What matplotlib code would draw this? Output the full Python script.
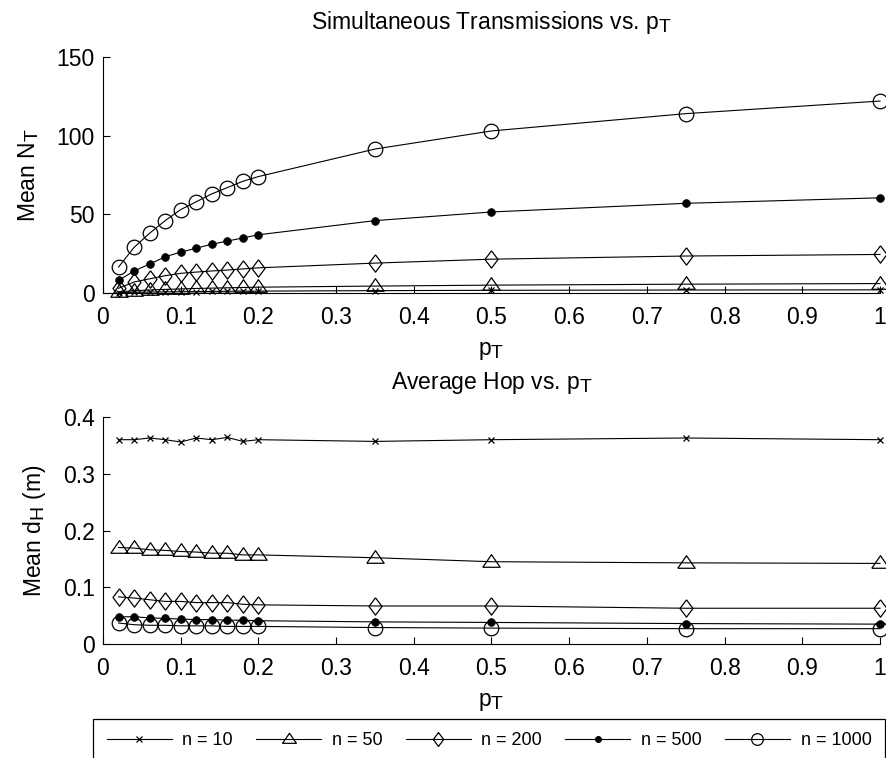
import matplotlib
matplotlib.use("Agg")
import matplotlib.pyplot as plt
import numpy as np

try:
    import matplotlib._mathtext as _mt
    _mt.SHRINK_FACTOR = 0.85
except Exception:
    pass

plt.rcParams['font.family'] = ['Liberation Sans', 'DejaVu Sans']
plt.rcParams['mathtext.fontset'] = 'custom'
plt.rcParams['mathtext.rm'] = 'Liberation Sans'
plt.rcParams['mathtext.it'] = 'Liberation Sans'

# ---- data ----
p_T = [0.02, 0.04, 0.06, 0.08, 0.10, 0.12, 0.14, 0.16, 0.18, 0.20, 0.35, 0.50, 0.75, 1.00]
series_labels = ['n = 10', 'n = 50', 'n = 200', 'n = 500', 'n = 1000']

NT_n10 = [0.2, 0.4, 0.6, 0.7, 0.8, 0.9, 1.0, 1.1, 1.2, 1.2, 1.5, 1.7, 1.9, 2.0]
NT_n50 = [0.8, 1.4, 1.9, 2.3, 2.6, 2.9, 3.1, 3.3, 3.5, 3.7, 4.4, 5.0, 5.6, 6.0]
NT_n200 = [3.0, 7.0, 9.0, 11.0, 12.5, 13.3, 14.0, 14.6, 15.3, 16.0, 19.0, 21.5, 23.5, 24.5]
NT_n500 = [8.0, 14.0, 18.4, 23.0, 26.0, 28.5, 31.0, 33.0, 35.0, 37.0, 46.0, 51.5, 57.0, 60.5]
NT_n1000 = [16.5, 29.0, 38.0, 46.0, 53.0, 58.0, 63.0, 67.0, 71.0, 74.0, 91.5, 103.0, 114.0, 122.0]

dH_n10 = [0.360, 0.360, 0.363, 0.360, 0.356, 0.363, 0.360, 0.364, 0.357, 0.360, 0.357, 0.360, 0.363, 0.360]
dH_n50 = [0.170, 0.169, 0.166, 0.165, 0.163, 0.162, 0.160, 0.160, 0.157, 0.157, 0.152, 0.145, 0.143, 0.142]
dH_n200 = [0.083, 0.081, 0.078, 0.075, 0.075, 0.073, 0.073, 0.073, 0.070, 0.069, 0.067, 0.067, 0.063, 0.063]
dH_n500 = [0.048, 0.048, 0.046, 0.045, 0.044, 0.043, 0.043, 0.042, 0.042, 0.041, 0.039, 0.038, 0.036, 0.035]
dH_n1000 = [0.037, 0.034, 0.033, 0.033, 0.032, 0.032, 0.032, 0.031, 0.031, 0.031, 0.029, 0.028, 0.027, 0.027]

x_ticks = [0, 0.1, 0.2, 0.3, 0.4, 0.5, 0.6, 0.7, 0.8, 0.9, 1]
x_ticklabels = ['0', '0.1', '0.2', '0.3', '0.4', '0.5', '0.6', '0.7', '0.8', '0.9', '1']
y1_ticks = [0, 50, 100, 150]
y2_ticks = [0, 0.1, 0.2, 0.3, 0.4]
y2_ticklabels = ['0', '0.1', '0.2', '0.3', '0.4']

# ---- styles ----
tri = [(-1, -0.55), (1, -0.55), (0, 0.9), (-1, -0.55)]
dia = [(0, 1), (0.75, 0), (0, -1), (-0.75, 0), (0, 1)]
styles = [
    dict(marker='x', ms=5, mfc='none', mew=0.9),
    dict(marker=tri, ms=12.5, mfc='none', mew=0.9),
    dict(marker=dia, ms=12.5, mfc='none', mew=0.9),
    dict(marker='o', ms=5.5, mfc='black', mew=0.6),
    dict(marker='o', ms=10.5, mfc='none', mew=0.9),
]

FS = 16.5
fig = plt.figure(figsize=(8.87, 7.58), dpi=100)
ax1 = fig.add_axes([103/887, (758-293)/758, 777/887, 236/758])
ax2 = fig.add_axes([103/887, (758-644)/758, 777/887, 227/758])

top_series = [NT_n10, NT_n50, NT_n200, NT_n500, NT_n1000]
bot_series = [dH_n10, dH_n50, dH_n200, dH_n500, dH_n1000]

handles = []
for ys, st in zip(top_series, styles):
    ax1.plot(p_T, ys, color='black', lw=0.8, mec='black', clip_on=False, **st)
for ys, st, lab in zip(bot_series, styles, series_labels):
    h, = ax2.plot(p_T, ys, color='black', lw=0.8, mec='black', clip_on=False, label=lab, **st)
    handles.append(h)

for ax in (ax1, ax2):
    ax.set_xlim(0, 1)
    ax.set_xticks(x_ticks)
    ax.set_xticklabels(x_ticklabels)
    ax.spines['top'].set_visible(False)
    ax.spines['right'].set_visible(False)
    ax.spines['left'].set_linewidth(0.8)
    ax.spines['bottom'].set_linewidth(0.8)
    ax.tick_params(direction='in', length=5, width=0.8, labelsize=FS)
    ax.tick_params(axis='x', pad=9.5)
    ax.tick_params(axis='y', pad=6)

ax1.set_ylim(0, 150)
ax1.set_yticks(y1_ticks)
ax1.set_yticklabels([str(v) for v in y1_ticks])
ax2.set_ylim(0, 0.4)
ax2.set_yticks(y2_ticks)
ax2.set_yticklabels(y2_ticklabels)

ax1.set_title(r'Simultaneous Transmissions vs. p$_\mathregular{T}$', fontsize=FS, pad=20)
ax2.set_title(r'Average Hop vs. p$_\mathregular{T}$', fontsize=FS, pad=20)
ax1.set_xlabel(r'p$_\mathregular{T}$', fontsize=FS, labelpad=7)
ax2.set_xlabel(r'p$_\mathregular{T}$', fontsize=FS, labelpad=7)
ax1.set_ylabel(r'Mean N$_\mathregular{T}$', fontsize=FS, labelpad=11)
ax2.set_ylabel(r'Mean d$_\mathregular{H}$ (m)', fontsize=FS, labelpad=11)

leg = fig.legend(handles, series_labels, ncol=5, mode='expand', loc='lower left',
                 bbox_to_anchor=(93/887, -5/758, 792/887, 0.058), borderaxespad=0,
                 frameon=True, fancybox=False, edgecolor='black', framealpha=1,
                 handlelength=3.6, markerscale=0.8, fontsize=13, handletextpad=0.6,
                 borderpad=0.75)
leg.get_frame().set_linewidth(0.9)

fig.savefig('out.png', dpi=100, facecolor='white')
